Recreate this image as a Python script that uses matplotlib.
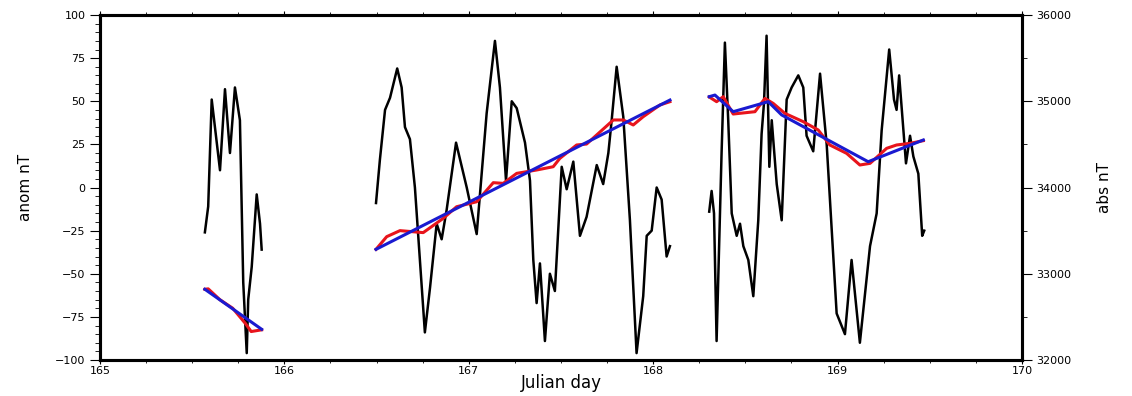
import numpy as np
import matplotlib.pyplot as plt
from matplotlib.ticker import MultipleLocator

# anomaly (left axis) in three data gaps
day1 = [165.569, 165.587, 165.606, 165.651, 165.678, 165.705, 165.732, 165.759,
        165.777, 165.796, 165.804, 165.823, 165.850, 165.868, 165.877]
anom1 = [-26, -11, 51, 10, 57, 20, 58, 39, -55, -96, -65, -46, -4, -21, -36]

day2 = [166.497, 166.518, 166.546, 166.573, 166.612, 166.636, 166.654, 166.681,
        166.708, 166.762, 166.790, 166.826, 166.853, 166.880, 166.931, 166.989,
        167.043, 167.097, 167.142, 167.169, 167.202, 167.233, 167.260, 167.305,
        167.332, 167.350, 167.368, 167.386, 167.413, 167.440, 167.467, 167.504,
        167.531, 167.567, 167.603, 167.639, 167.694, 167.729, 167.757, 167.775,
        167.802, 167.838, 167.874, 167.910, 167.946, 167.965, 167.992, 168.019,
        168.046, 168.073, 168.091]
anom2 = [-9, 16, 45, 52, 69, 58, 35, 28, 0, -84, -58, -21, -30, -13, 26, 0,
         -27, 43, 85, 58, 4, 50, 46, 26, 4, -42, -67, -44, -89, -50, -60, 12,
         -1, 15, -28, -17, 13, 2, 20, 39, 70, 41, -19, -96, -63, -28, -25, 0,
         -7, -40, -34]

day3 = [168.304, 168.317, 168.330, 168.344, 168.371, 168.389, 168.407, 168.426,
        168.453, 168.471, 168.489, 168.516, 168.543, 168.570, 168.588, 168.601,
        168.615, 168.630, 168.643, 168.670, 168.697, 168.724, 168.751, 168.787,
        168.814, 168.832, 168.868, 168.905, 168.941, 168.995, 169.040, 169.076,
        169.121, 169.176, 169.212, 169.239, 169.280, 169.306, 169.320, 169.334,
        169.371, 169.393, 169.411, 169.438, 169.459, 169.470]
anom3 = [-14, -2, -15, -89, 20, 84, 39, -15, -28, -21, -34, -42, -63, -19, 31,
         49, 88, 12, 39, 2, -19, 51, 58, 65, 58, 30, 21, 66, 25, -73, -85, -42,
         -90, -34, -15, 33, 80, 51, 45, 65, 14, 30, 18, 8, -28, -25]

# absolute field (right axis): red = observed smooth, blue = fitted trend
red_day1 = [165.569, 165.587, 165.650, 165.720, 165.790, 165.820, 165.877]
red_abs1 = [32820, 32825, 32700, 32600, 32420, 32330, 32350]
blue_day1 = [165.569, 165.877]
blue_abs1 = [32820, 32356]

red_day2 = [166.497, 166.555, 166.627, 166.753, 166.862, 166.934, 167.043,
            167.133, 167.187, 167.260, 167.368, 167.458, 167.494, 167.585,
            167.639, 167.784, 167.838, 167.892, 167.946, 168.037, 168.091]
red_abs2 = [33283, 33430, 33500, 33477, 33643, 33777, 33835, 34056, 34048,
            34164, 34203, 34241, 34338, 34493, 34504, 34783, 34783, 34725,
            34821, 34957, 34995]
blue_day2 = [166.497, 168.091]
blue_abs2 = [33283, 35014]

red_day3 = [168.304, 168.344, 168.380, 168.434, 168.552, 168.606, 168.651,
            168.714, 168.814, 168.895, 168.958, 169.049, 169.121, 169.176,
            169.266, 169.320, 169.393, 169.465]
red_abs3 = [35050, 34995, 35053, 34852, 34879, 35033, 34975, 34860, 34763,
            34667, 34493, 34396, 34261, 34280, 34454, 34493, 34512, 34543]
blue_day3 = [168.304, 168.335, 168.434, 168.624, 168.697, 169.166, 169.465]
blue_abs3 = [35053, 35072, 34879, 34995, 34841, 34299, 34551]

fig = plt.figure(figsize=(11.32, 3.96), dpi=100)
ax = fig.add_axes([0.0883, 0.0909, 0.8145, 0.8712])
ax2 = ax.twinx()

for d, a in [(day1, anom1), (day2, anom2), (day3, anom3)]:
    ax.plot(d, a, color='black', lw=1.8)

for d, a in [(red_day1, red_abs1), (red_day2, red_abs2), (red_day3, red_abs3)]:
    ax2.plot(d, a, color='#e8141c', lw=2.2)
for d, a in [(blue_day1, blue_abs1), (blue_day2, blue_abs2), (blue_day3, blue_abs3)]:
    ax2.plot(d, a, color='#1a1ad0', lw=2.2)

ax.set_xlim(165, 170)
ax.set_ylim(-100, 100)
ax2.set_ylim(32000, 36000)

ax.xaxis.set_major_locator(MultipleLocator(1))
ax.xaxis.set_minor_locator(MultipleLocator(0.25))
ax.yaxis.set_major_locator(MultipleLocator(25))
ax.yaxis.set_minor_locator(MultipleLocator(5))
ax2.yaxis.set_major_locator(MultipleLocator(1000))
ax2.yaxis.set_minor_locator(MultipleLocator(500))

for a in (ax, ax2):
    for s in a.spines.values():
        s.set_linewidth(2.2)
ax.tick_params(axis='both', which='major', direction='out', length=7, width=0.8,
               labelsize=8, top=True)
ax.tick_params(axis='x', which='major', length=3, pad=1)
ax.tick_params(axis='both', which='minor', direction='out', length=3.5, width=0.6,
               top=True)
ax.tick_params(axis='x', which='minor', length=2.5)
ax2.tick_params(which='major', direction='out', length=7, width=0.8, labelsize=8)
ax2.tick_params(which='minor', direction='out', length=3.5, width=0.6)

ax.set_xlabel('Julian day', fontsize=12, labelpad=-1)
ax.set_ylabel('anom nT', fontsize=11, labelpad=16)
ax2.set_ylabel('abs nT', fontsize=11, labelpad=18)

fig.savefig('out.png', dpi=100)
